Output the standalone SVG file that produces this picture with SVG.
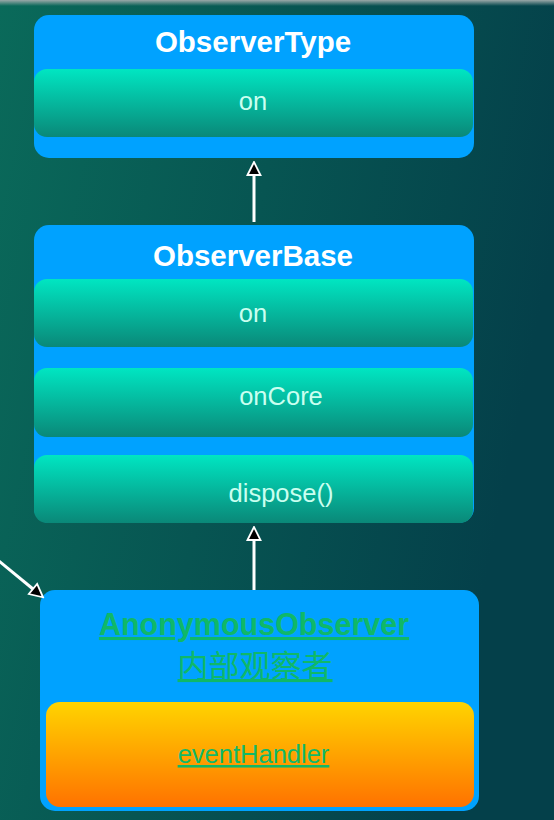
<svg xmlns="http://www.w3.org/2000/svg" width="554" height="820" viewBox="0 0 554 820">
<defs>
<linearGradient id="bg" x1="0" y1="0" x2="1" y2="0.3">
<stop offset="0" stop-color="#0a6a5a"/>
<stop offset="1" stop-color="#04404a"/>
</linearGradient>
<linearGradient id="topband" x1="0" y1="0" x2="0" y2="1">
<stop offset="0" stop-color="#9aa8a8"/>
<stop offset="1" stop-color="#9aa8a8" stop-opacity="0"/>
</linearGradient>
<linearGradient id="member" x1="0" y1="0" x2="0" y2="1">
<stop offset="0" stop-color="#00e6c2"/>
<stop offset="1" stop-color="#0a8878"/>
</linearGradient>
<linearGradient id="orange" x1="0" y1="0" x2="0" y2="1">
<stop offset="0" stop-color="#ffd400"/>
<stop offset="1" stop-color="#ff7200"/>
</linearGradient>
<marker id="arr" viewBox="0 0 16 16" refX="1.5" refY="8" markerWidth="16" markerHeight="16" markerUnits="userSpaceOnUse" orient="auto">
<path d="M1.5,1.5 L14.5,8 L1.5,14.5 z" fill="#000" stroke="#fff" stroke-width="1.8"/>
</marker>
<style>
.box{fill:#00a2ff}
.mem{fill:url(#member)}
.title{font-family:"Liberation Sans",Arial,sans-serif;font-weight:bold;font-size:29.5px;fill:#fff;text-anchor:middle}
.mtxt{font-family:"Liberation Sans",Arial,sans-serif;font-size:25.5px;fill:#cafff0;text-anchor:middle}
.green{font-family:"Liberation Sans",Arial,"Noto Sans CJK SC",sans-serif;fill:#10b868;text-anchor:middle;text-decoration:underline}
.conn{stroke:#fff;stroke-width:3;fill:none}
</style>
</defs>
<rect x="0" y="0" width="554" height="820" fill="url(#bg)"/>
<rect x="0" y="0" width="554" height="6" fill="url(#topband)"/>

<g id="ObserverType">
<rect class="box" x="34" y="15" width="440" height="143" rx="15"/>
<text class="title" x="253" y="52">ObserverType</text>
<rect class="mem" x="34" y="69" width="439" height="68" rx="13"/>
<text class="mtxt" x="253" y="110">on</text>
</g>

<g id="ObserverBase">
<rect class="box" x="34" y="225" width="440" height="298" rx="15"/>
<text class="title" x="253" y="266">ObserverBase</text>
<rect class="mem" x="34" y="279" width="439" height="68" rx="13"/>
<text class="mtxt" x="253" y="322">on</text>
<rect class="mem" x="34" y="368" width="439" height="69" rx="13"/>
<text class="mtxt" x="281" y="405">onCore</text>
<rect class="mem" x="34" y="455" width="439" height="68" rx="13"/>
<text class="mtxt" x="281" y="502">dispose()</text>
</g>

<g id="AnonymousObserver">
<rect class="box" x="40" y="590" width="439" height="221" rx="15"/>
<text class="green" x="254" y="635" font-size="30.5" font-weight="bold">AnonymousObserver</text>
<text class="green" x="255" y="677" font-size="31">内部观察者</text>
<rect x="46" y="702" width="428" height="105" rx="14" fill="url(#orange)"/>
<text class="green" x="253.5" y="763" font-size="25.5">eventHandler</text>
</g>

<g id="connectors">
<line class="conn" x1="254" y1="222" x2="254" y2="175" marker-end="url(#arr)"/>
<line class="conn" x1="254" y1="590" x2="254" y2="540" marker-end="url(#arr)"/>
<line class="conn" x1="-1" y1="561" x2="33" y2="589" marker-end="url(#arr)"/>
</g>
</svg>
